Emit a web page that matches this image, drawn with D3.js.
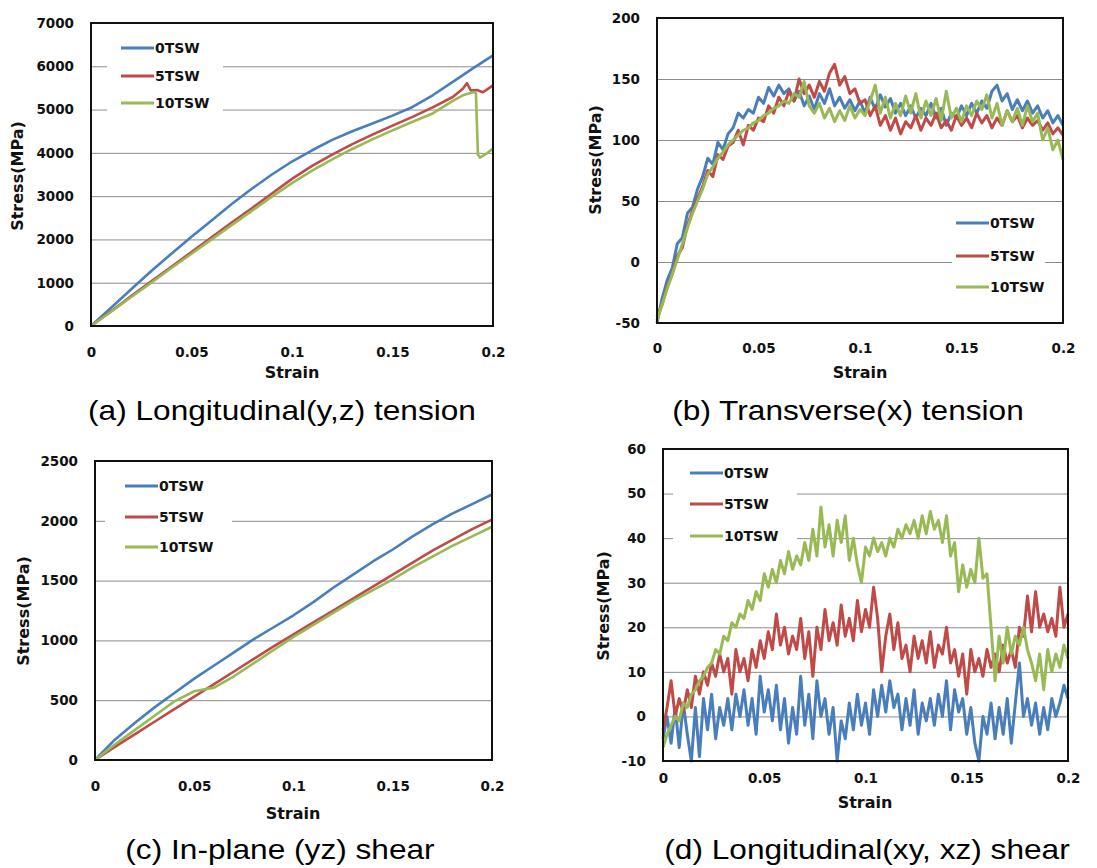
<!DOCTYPE html>
<html>
<head>
<meta charset="utf-8">
<script src="https://cdn.jsdelivr.net/npm/d3@7"></script>
<style>
  body { margin: 0; background: #fff; }
</style>
</head>
<body>
<svg id="chart" width="1097" height="868"></svg>
<script>
// ---- data ----
const seriesNames = ['0TSW', '5TSW', '10TSW']
const colors = ['#4a7ebb', '#be4b48', '#98b954']

const strainTicks = [0, 0.05, 0.1, 0.15, 0.2]
const strainTickLabels = ['0', '0.05', '0.1', '0.15', '0.2']

// (a) longitudinal tension
const strainA0 = [0, 0.01, 0.02, 0.03, 0.04, 0.05, 0.06, 0.07, 0.08, 0.09, 0.1, 0.11, 0.12, 0.13, 0.14, 0.15, 0.16, 0.17, 0.18, 0.19, 0.2]
const stressA0 = [0, 420, 850, 1270, 1670, 2060, 2440, 2820, 3170, 3500, 3800, 4060, 4300, 4500, 4680, 4860, 5060, 5330, 5640, 5950, 6250]
const strainA5 = [0, 0.01, 0.02, 0.03, 0.04, 0.05, 0.06, 0.07, 0.08, 0.09, 0.1, 0.11, 0.12, 0.13, 0.14, 0.15, 0.16, 0.17, 0.18, 0.185, 0.187, 0.189, 0.192, 0.195, 0.2]
const stressA5 = [0, 340, 690, 1030, 1370, 1710, 2050, 2390, 2720, 3060, 3400, 3700, 3960, 4200, 4420, 4630, 4830, 5050, 5290, 5480, 5610, 5440, 5450, 5400, 5560]
const strainA10 = [0, 0.01, 0.02, 0.03, 0.04, 0.05, 0.06, 0.07, 0.08, 0.09, 0.1, 0.11, 0.12, 0.13, 0.14, 0.15, 0.16, 0.17, 0.18, 0.185, 0.19, 0.1915, 0.1925, 0.1935, 0.197, 0.2]
const stressA10 = [0, 330, 670, 1000, 1340, 1670, 2000, 2330, 2660, 2990, 3300, 3590, 3850, 4090, 4310, 4520, 4720, 4910, 5200, 5330, 5400, 5390, 3960, 3890, 3990, 4100]
const yTicksA = [0, 1000, 2000, 3000, 4000, 5000, 6000, 7000]

// (b) transverse tension, sampled every 0.0025 strain
const stepB = 0.0025
const stressB0 = [-50, -30, -15, -5, 15, 20, 40, 45, 60, 70, 85, 80, 98, 92, 105, 110, 122, 118, 125, 122, 135, 130, 143, 136, 145, 138, 142, 132, 140, 128, 136, 125, 138, 130, 142, 128, 135, 126, 133, 124, 132, 122, 135, 125, 137, 127, 134, 122, 130, 120, 128, 118, 126, 120, 130, 118, 126, 112, 122, 118, 128, 120, 130, 122, 132, 126, 140, 145, 132, 138, 125, 133, 124, 132, 122, 128, 118, 124, 114, 120, 112]
const stressB5 = [-45, -35, -20, -10, 5, 12, 30, 42, 52, 62, 75, 70, 88, 84, 95, 98, 108, 96, 112, 108, 118, 115, 128, 122, 135, 128, 140, 132, 150, 138, 145, 135, 148, 140, 155, 162, 145, 152, 138, 142, 130, 133, 120, 128, 112, 120, 108, 118, 105, 115, 110, 120, 108, 118, 112, 122, 110, 116, 108, 120, 112, 118, 110, 122, 114, 120, 110, 118, 112, 124, 115, 120, 110, 118, 112, 116, 108, 114, 105, 110, 104]
const stressB10 = [-48, -35, -22, -10, 2, 15, 28, 40, 50, 60, 72, 78, 85, 90, 96, 100, 104, 108, 110, 114, 116, 120, 122, 126, 128, 132, 130, 138, 135, 148, 128, 122, 130, 118, 126, 115, 124, 116, 128, 118, 125, 120, 132, 145, 122, 135, 118, 130, 120, 136, 122, 138, 118, 132, 120, 134, 116, 140, 118, 126, 115, 128, 120, 132, 125, 137, 118, 130, 112, 124, 115, 126, 112, 128, 115, 122, 100, 110, 92, 100, 84]
const yTicksB = [-50, 0, 50, 100, 150, 200]

// (c) in-plane shear
const strainC = [0, 0.01, 0.02, 0.03, 0.04, 0.05, 0.06, 0.07, 0.08, 0.09, 0.1, 0.11, 0.12, 0.13, 0.14, 0.15, 0.16, 0.17, 0.18, 0.19, 0.2]
const stressC0 = [0, 170, 310, 440, 560, 680, 790, 900, 1010, 1110, 1210, 1320, 1440, 1550, 1660, 1760, 1870, 1970, 2060, 2140, 2220]
const stressC5 = [0, 110, 215, 320, 425, 530, 635, 740, 845, 950, 1050, 1150, 1250, 1350, 1450, 1550, 1650, 1750, 1840, 1930, 2010]
const stressC10 = [0, 130, 250, 370, 490, 575, 605, 700, 810, 920, 1030, 1130, 1230, 1330, 1420, 1510, 1610, 1700, 1790, 1870, 1950]
const yTicksC = [0, 500, 1000, 1500, 2000, 2500]

// (d) longitudinal shear, sampled every 0.002 strain
const stepD = 0.002
const stressD0 = [-5, 0, -6, 2, -7, 3, -4, -10, 2, -9, 4, -3, 5, -5, 2, -2, 4, -3, 5, 0, 6, -2, 4, -4, 9, 1, 6, -1, 7, -3, 4, -6, 2, -4, 9, -2, 5, -5, 8, 0, 4, -4, 2, -10, -1, -5, 3, -3, 5, -2, 3, -4, 6, 0, 7, 1, 8, 2, 5, -3, 4, -2, 6, -4, 3, -1, 4, -2, 5, 0, 8, -3, 6, 1, 4, -4, 2, -6, -10, 0, -4, 3, -5, 2, -4, 4, -6, 3, 12, 0, 4, -2, 3, -4, 2, -3, 4, 0, 3, 7, 4]
const stressD5 = [-3, 2, 8, 0, 4, 1, 6, 2, 9, 5, 10, 7, 12, 9, 14, 10, 13, 5, 15, 10, 13, 8, 15, 11, 17, 13, 19, 15, 23, 16, 20, 14, 18, 15, 22, 13, 19, 9, 20, 15, 24, 17, 21, 16, 25, 18, 22, 17, 26, 19, 24, 20, 29, 22, 10, 18, 23, 15, 21, 13, 16, 10, 18, 13, 17, 12, 19, 11, 16, 14, 20, 12, 15, 9, 14, 5, 15, 10, 13, 9, 15, 11, 14, 10, 16, 12, 15, 11, 20, 18, 27, 19, 28, 20, 23, 19, 22, 18, 29, 20, 23]
const stressD10 = [-7, -4, -2, 0, -1, 3, 2, 5, 6, 8, 9, 11, 12, 15, 14, 18, 17, 21, 20, 23, 22, 26, 24, 28, 26, 32, 29, 33, 30, 35, 32, 37, 33, 36, 34, 39, 35, 42, 36, 47, 38, 43, 36, 44, 39, 45, 35, 40, 34, 30, 38, 36, 40, 37, 39, 36, 40, 38, 42, 40, 43, 41, 44, 40, 45, 41, 46, 42, 44, 39, 45, 36, 39, 28, 34, 29, 33, 30, 40, 31, 32, 20, 8, 18, 12, 20, 14, 18, 16, 20, 15, 12, 8, 14, 6, 15, 10, 14, 11, 16, 13]
const yTicksD = [-10, 0, 10, 20, 30, 40, 50, 60]

// ---- drawing ----
const svg = d3.select('#chart')
const boldFont = "'DejaVu Sans', sans-serif"
const capFont = "'Liberation Sans', Arial, sans-serif"

const sampled = (step, vals) => vals.map((v, i) => [i * step, v])
const paired = (xs, ys) => ys.map((v, i) => [xs[i], v])

const drawPanel = (cfg) => {
    const x = d3.scaleLinear().domain([0, 0.2]).range([0, cfg.width])
    const y = d3.scaleLinear().domain(d3.extent(cfg.yTicks)).range([cfg.height, 0])

    const g = svg.append('g')
                 .attr('transform', `translate(${cfg.left}, ${cfg.top})`)

    // horizontal gridlines + y tick labels
    const yAxis = g.append('g')
                   .call(d3.axisLeft(y).tickValues(cfg.yTicks).tickSize(-cfg.width)
                           .tickPadding(17).tickFormat(d => String(d)))
    yAxis.select('.domain').remove()
    yAxis.selectAll('line').attr('stroke', '#8c8c8c').attr('stroke-width', 1)
    yAxis.selectAll('text')
         .style('font', `bold 13.5px ${boldFont}`)
         .attr('fill', '#111')

    // x tick labels
    const xAxis = g.append('g')
                   .attr('transform', `translate(0, ${cfg.height})`)
                   .call(d3.axisBottom(x).tickValues(strainTicks).tickSize(0)
                           .tickFormat((d, i) => strainTickLabels[i]))
    xAxis.select('.domain').remove()
    xAxis.selectAll('text')
         .attr('y', cfg.xTickOffset)
         .attr('dy', '0.35em')
         .style('font', `bold 13.5px ${boldFont}`)
         .attr('fill', '#111')

    const line = d3.line()
                   .x(d => x(d[0]))
                   .y(d => y(d[1]))

    cfg.series.forEach((s, i) => {
        g.append('path')
         .datum(s)
         .attr('d', line)
         .attr('fill', 'none')
         .attr('stroke', colors[i])
         .attr('stroke-width', cfg.lineWidth)
         .attr('stroke-linejoin', 'round')
    })

    // plot frame
    g.append('rect')
     .attr('width', cfg.width)
     .attr('height', cfg.height)
     .attr('fill', 'none')
     .attr('stroke', '#111')
     .attr('stroke-width', 2)

    // axis titles
    svg.append('text')
       .attr('x', cfg.xTitle[0])
       .attr('y', cfg.xTitle[1])
       .attr('text-anchor', 'middle')
       .attr('dy', '0.35em')
       .style('font', `bold 16px ${boldFont}`)
       .attr('fill', '#111')
       .text('Strain')

    svg.append('text')
       .attr('transform', `translate(${cfg.yTitle[0]}, ${cfg.yTitle[1]}) rotate(-90)`)
       .attr('text-anchor', 'middle')
       .attr('dy', '0.35em')
       .style('font', `bold 16px ${boldFont}`)
       .attr('fill', '#111')
       .text('Stress(MPa)')

    // legend
    const lg = cfg.legend
    svg.append('rect')
       .attr('x', lg.box[0]).attr('y', lg.box[1])
       .attr('width', lg.box[2]).attr('height', lg.box[3])
       .attr('fill', '#fff')
    seriesNames.forEach((name, i) => {
        svg.append('line')
           .attr('x1', lg.x).attr('x2', lg.x + 33)
           .attr('y1', lg.ys[i]).attr('y2', lg.ys[i])
           .attr('stroke', colors[i])
           .attr('stroke-width', 2.8)
        svg.append('text')
           .attr('x', lg.x + 34)
           .attr('y', lg.ys[i])
           .attr('dy', '0.36em')
           .style('font', `bold 14px ${boldFont}`)
           .attr('fill', '#111')
           .text(name)
    })

    // caption
    svg.append('text')
       .attr('transform', `translate(${cfg.caption[0]}, ${cfg.caption[1]}) scale(1.13, 1)`)
       .attr('text-anchor', 'middle')
       .style('font', `28px ${capFont}`)
       .attr('fill', '#000')
       .text(cfg.caption[2])
}

drawPanel({
    left: 91, top: 23, width: 402, height: 303,
    yTicks: yTicksA, xTickOffset: 26, lineWidth: 2.6,
    series: [paired(strainA0, stressA0), paired(strainA5, stressA5), paired(strainA10, stressA10)],
    xTitle: [292, 372], yTitle: [17, 176],
    legend: { x: 121, ys: [48, 76, 103], box: [107, 33, 116, 87] },
    caption: [282, 420, '(a) Longitudinal(y,z) tension']
})

drawPanel({
    left: 657, top: 18, width: 406, height: 305,
    yTicks: yTicksB, xTickOffset: 25, lineWidth: 3,
    series: [sampled(stepB, stressB0), sampled(stepB, stressB5), sampled(stepB, stressB10)],
    xTitle: [860, 372], yTitle: [595, 160],
    legend: { x: 956, ys: [223, 256, 287], box: [952, 207, 93, 94] },
    caption: [848, 420, '(b) Transverse(x) tension']
})

drawPanel({
    left: 95, top: 461, width: 397, height: 299,
    yTicks: yTicksC, xTickOffset: 26, lineWidth: 2.6,
    series: [paired(strainC, stressC0), paired(strainC, stressC5), paired(strainC, stressC10)],
    xTitle: [293, 813], yTitle: [23, 611],
    legend: { x: 125, ys: [486, 517, 547], box: [105, 470, 127, 90] },
    caption: [280, 859, '(c) In-plane (yz) shear']
})

drawPanel({
    left: 663, top: 449, width: 405, height: 312,
    yTicks: yTicksD, xTickOffset: 17, lineWidth: 3,
    series: [sampled(stepD, stressD0), sampled(stepD, stressD5), sampled(stepD, stressD10)],
    xTitle: [865, 802], yTitle: [603, 606],
    legend: { x: 690, ys: [473, 504, 536], box: [673, 458, 124, 92] },
    caption: [867, 859, '(d) Longitudinal(xy, xz) shear']
})
</script>
</body>
</html>
